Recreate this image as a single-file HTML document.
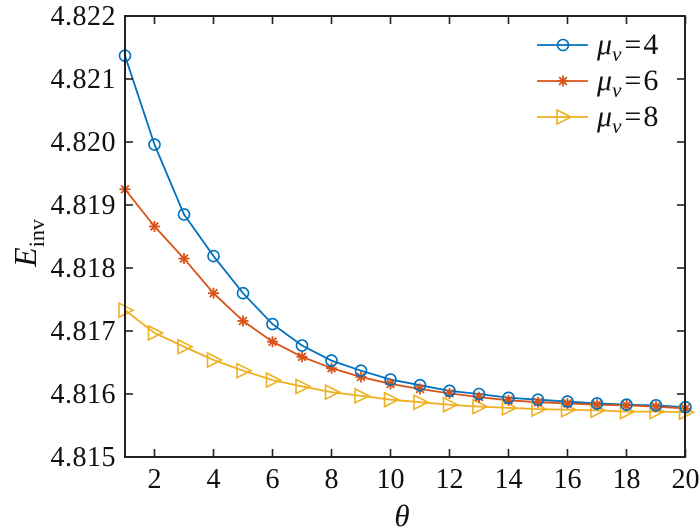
<!DOCTYPE html>
<html><head><meta charset="utf-8"><style>
html,body{margin:0;padding:0;background:#fff;}
svg{display:block;}
</style></head><body>
<svg id="s" width="700" height="532" viewBox="0 0 700 532" xmlns="http://www.w3.org/2000/svg" font-family="'Liberation Serif', 'DejaVu Serif', serif">
<rect x="0" y="0" width="700" height="532" fill="#fff"/>
<g id="plot"></g>
<rect x="125" y="16" width="560" height="441" fill="none" stroke="#222" stroke-width="2"/>
<g id="ticks" stroke="#222" stroke-width="1.6"></g>
<g id="lab" font-size="28" font-family="'Liberation Serif', serif" fill="#111"></g>
<text x="402" y="526" font-size="31" font-style="italic" text-anchor="middle" font-family="'Liberation Serif', serif" fill="#111">θ</text>
<g transform="translate(36,243) rotate(-90)">
<text x="0" y="0" font-size="32" font-style="italic" text-anchor="middle" font-family="'Liberation Serif', serif" fill="#111">E<tspan font-style="normal" font-size="22" dy="8">inv</tspan></text>
</g>
<g id="leg" font-family="'Liberation Serif', serif" fill="#111"></g>
</svg>
<script>
var X=function(t){return 125+(t-1)*29.5;};
var Y=function(v){return 16+(4.822-v)*63000;};
var B=[4.82137,4.81996,4.81885,4.81819,4.81760,4.81711,4.81677,4.81653,4.81637,4.81623,4.81614,4.81605,4.81600,4.81594,4.81591,4.81588,4.81585,4.81583,4.81582,4.81579];
var R=[4.81925,4.81866,4.81815,4.81760,4.81716,4.81683,4.81659,4.81641,4.81627,4.81616,4.81608,4.81601,4.81595,4.81590,4.81587,4.81585,4.81583,4.81582,4.81580,4.81577];
var Yl=[4.81733,4.81697,4.81675,4.81654,4.81637,4.81622,4.81612,4.81603,4.81597,4.81591,4.81587,4.81583,4.81580,4.81578,4.81576,4.81575,4.81574,4.81572,4.81572,4.81571];
var C=["#0072BD","#D95319","#EDB120"];
function mk(kind,x,y,c){
 if(kind==0) return '<circle cx="'+x+'" cy="'+y+'" r="5.5" fill="none" stroke="'+c+'" stroke-width="1.6"/>';
 if(kind==1){var s='',r=5.5;for(var k=0;k<4;k++){var a=k*Math.PI/4;s+='<line x1="'+(x-r*Math.cos(a))+'" y1="'+(y-r*Math.sin(a))+'" x2="'+(x+r*Math.cos(a))+'" y2="'+(y+r*Math.sin(a))+'" stroke="'+c+'" stroke-width="1.8"/>';}return s;}
 return '<polygon points="'+(x-6)+','+(y-7)+' '+(x+8)+','+y+' '+(x-6)+','+(y+7)+'" fill="none" stroke="'+c+'" stroke-width="1.6"/>';
}
var g='';
[B,R,Yl].forEach(function(d,i){
 var p=d.map(function(v,j){return X(j+1)+','+Y(v);}).join(' ');
 g+='<polyline points="'+p+'" fill="none" stroke="'+C[i]+'" stroke-width="1.8"/>';
});
[Yl,R,B].forEach(function(d,ii){var i=2-ii;d.forEach(function(v,j){g+=mk(i,X(j+1),Y(v),C[i]);});});
document.getElementById('plot').innerHTML=g;
var t='',l='';
for(var th=2;th<=20;th+=2){var x=X(th);t+='<line x1="'+x+'" y1="457" x2="'+x+'" y2="449"/><line x1="'+x+'" y1="16" x2="'+x+'" y2="24"/>';l+='<text x="'+x+'" y="488" text-anchor="middle">'+th+'</text>';}
for(var k=0;k<=7;k++){var v=4.815+k*0.001,y=Y(v);t+='<line x1="125" y1="'+y+'" x2="133" y2="'+y+'"/><line x1="685" y1="'+y+'" x2="677" y2="'+y+'"/>';l+='<text x="116" y="'+(y+9)+'" text-anchor="end" letter-spacing="0.5">'+v.toFixed(3)+'</text>';}
document.getElementById('ticks').innerHTML=t;
document.getElementById('lab').innerHTML=l;
var lg='',nums=[4,6,8];
for(var i=0;i<3;i++){var y=45+i*36;
 lg+='<line x1="537" y1="'+y+'" x2="588" y2="'+y+'" stroke="'+C[i]+'" stroke-width="1.8"/>'+mk(i,563,y,C[i]);
 lg+='<text x="597" y="'+(y+9)+'" font-size="30"><tspan font-style="italic">μ</tspan><tspan font-style="italic" font-size="21" dy="7">v</tspan><tspan dy="-7" dx="3">=</tspan><tspan dx="2">'+nums[i]+'</tspan></text>';
}
document.getElementById('leg').innerHTML=lg;
</script>
</body></html>
